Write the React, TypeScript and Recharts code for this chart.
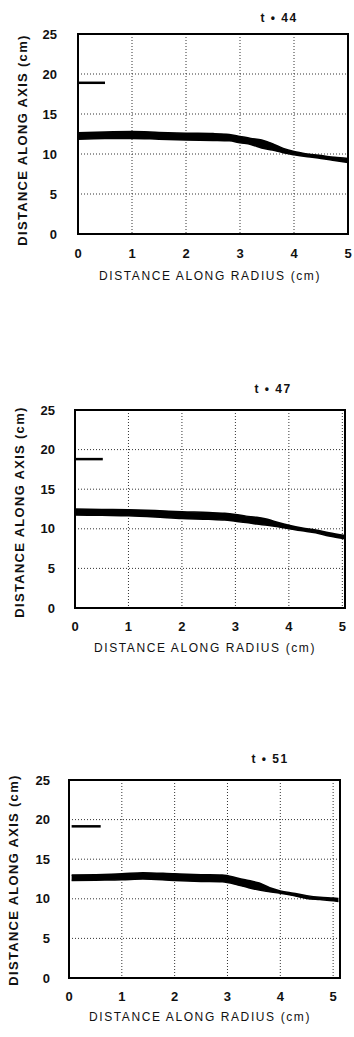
import React from "react";
import {
  ComposedChart,
  Area,
  Line,
  XAxis,
  YAxis,
  CartesianGrid,
  ReferenceArea,
} from "recharts";

// ---- data ----
const titles = ["t • 44", "t • 47", "t • 51"];
const xTicks = [0, 1, 2, 3, 4, 5];
const yTicks = [0, 5, 10, 15, 20, 25];
const xLabel = "DISTANCE ALONG RADIUS (cm)";
const yLabel = "DISTANCE ALONG AXIS (cm)";

const radius44 = [0, 0.5, 1, 1.5, 2, 2.5, 2.8, 3.0, 3.2, 3.4, 3.6, 3.8, 4.0, 4.25, 4.5, 4.75, 5.0];
const upper44 = [12.65, 12.75, 12.8, 12.7, 12.6, 12.55, 12.45, 12.2, 11.95, 11.75, 11.3, 10.7, 10.3, 10.0, 9.8, 9.6, 9.45];
const lower44 = [11.85, 11.95, 11.95, 11.85, 11.75, 11.7, 11.65, 11.4, 11.2, 10.75, 10.5, 10.15, 9.9, 9.65, 9.45, 9.2, 8.95];
const segX44 = [0, 0.5];
const segY44 = [18.9, 18.9];

const radius47 = [0, 0.5, 1, 1.5, 2, 2.5, 2.8, 3.0, 3.2, 3.4, 3.6, 3.8, 4.0, 4.25, 4.5, 4.75, 5.05];
const upper47 = [12.5, 12.45, 12.4, 12.3, 12.15, 12.05, 11.95, 11.8, 11.6, 11.45, 11.2, 10.8, 10.45, 10.1, 9.85, 9.5, 9.15];
const lower47 = [11.75, 11.7, 11.65, 11.5, 11.3, 11.2, 11.1, 10.95, 10.8, 10.6, 10.45, 10.25, 10.0, 9.75, 9.5, 9.1, 8.75];
const segX47 = [0, 0.52];
const segY47 = [18.8, 18.8];

const radius51 = [0.05, 0.5, 1, 1.4, 2, 2.5, 2.9, 3.2, 3.4, 3.6, 3.8, 4.0, 4.25, 4.5, 4.75, 5.0, 5.1];
const upper51 = [13.0, 13.05, 13.15, 13.3, 13.15, 13.05, 13.0, 12.6, 12.3, 12.0, 11.4, 11.0, 10.7, 10.4, 10.2, 10.1, 10.05];
const lower51 = [12.3, 12.35, 12.4, 12.5, 12.3, 12.2, 12.15, 11.75, 11.4, 11.1, 10.9, 10.7, 10.4, 10.05, 9.9, 9.75, 9.65];
const segX51 = [0.05, 0.6];
const segY51 = [19.15, 19.15];

const buildBand = (xs: number[], hi: number[], lo: number[]) =>
  xs.map((x, i) => ({ x, range: [lo[i], hi[i]] }));
const buildSeg = (xs: number[], ys: number[]) => xs.map((x, i) => ({ x, y: ys[i] }));

type Geo = {
  L: number; R: number; T: number; B: number; xMax: number;
  yTickRight: number; xTickY: number; xLabelX: number; xLabelY: number;
  yLabelX: number; yLabelY: number; titleX: number; titleY: number;
};

const panels: { title: string; band: any[]; seg: any[]; geo: Geo }[] = [
  {
    title: titles[0],
    band: buildBand(radius44, upper44, lower44),
    seg: buildSeg(segX44, segY44),
    geo: { L: 78, R: 348, T: 34, B: 234, xMax: 5, yTickRight: 57, xTickY: 254, xLabelX: 210, xLabelY: 276, yLabelX: 23, yLabelY: 140, titleX: 279, titleY: 18 },
  },
  {
    title: titles[1],
    band: buildBand(radius47, upper47, lower47),
    seg: buildSeg(segX47, segY47),
    geo: { L: 75, R: 345, T: 410, B: 608, xMax: 5.05, yTickRight: 55, xTickY: 627, xLabelX: 205, xLabelY: 648, yLabelX: 20, yLabelY: 512, titleX: 273, titleY: 389 },
  },
  {
    title: titles[2],
    band: buildBand(radius51, upper51, lower51),
    seg: buildSeg(segX51, segY51),
    geo: { L: 69, R: 340, T: 780, B: 978, xMax: 5.13, yTickRight: 50, xTickY: 997, xLabelX: 200, xLabelY: 1017, yLabelX: 14, yLabelY: 880, titleX: 270, titleY: 759 },
  },
];

const FONT = "'Liberation Sans', Arial, Helvetica, sans-serif";

function Panel({ title, band, seg, geo }: { title: string; band: any[]; seg: any[]; geo: Geo }) {
  const chartTop = geo.T - 20;
  const chartH = geo.B - geo.T + 70;
  const yAxisW = 40;
  const xAxisH = 30;
  return (
    <>
      <div style={{ position: "absolute", left: 0, top: chartTop, width: 354, height: chartH }}>
        <ComposedChart
          width={354}
          height={chartH}
          margin={{ top: 20, left: geo.L - yAxisW, right: 354 - geo.R, bottom: chartH - 20 - (geo.B - geo.T) - xAxisH }}
        >
          <CartesianGrid stroke="#333" strokeDasharray="1 2" strokeWidth={1} />
          <XAxis
            dataKey="x"
            type="number"
            domain={[0, geo.xMax]}
            ticks={xTicks}
            allowDataOverflow
            axisLine={false}
            tickLine={false}
            height={xAxisH}
            tickMargin={geo.xTickY - 5 - geo.B - 6}
            tick={{ fill: "#111", fontSize: 13, fontWeight: 700, fontFamily: FONT }}
          />
          <YAxis
            type="number"
            domain={[0, 25]}
            ticks={yTicks}
            allowDataOverflow
            axisLine={false}
            tickLine={false}
            width={yAxisW}
            tickMargin={geo.L - 6 - geo.yTickRight}
            tick={{ fill: "#111", fontSize: 13, fontWeight: 700, fontFamily: FONT }}
          />
          <Area
            data={band}
            dataKey="range"
            type="monotone"
            stroke="#000"
            strokeWidth={1.5}
            fill="#000"
            fillOpacity={1}
            isAnimationActive={false}
            dot={false}
            activeDot={false}
          />
          <Line
            data={seg}
            dataKey="y"
            type="linear"
            stroke="#000"
            strokeWidth={2.5}
            dot={false}
            activeDot={false}
            isAnimationActive={false}
          />
          <ReferenceArea
            x1={0}
            x2={geo.xMax}
            y1={0}
            y2={25}
            fill="none"
            stroke="#000"
            strokeWidth={2}
            ifOverflow="visible"
          />
        </ComposedChart>
      </div>
      <div
        style={{
          position: "absolute", left: geo.titleX - 40, top: geo.titleY - 8, width: 80, height: 16,
          textAlign: "center", fontFamily: FONT, fontSize: 12, fontWeight: 700, letterSpacing: 1.5,
          lineHeight: "16px", color: "#111", whiteSpace: "nowrap",
        }}
      >
        {title}
      </div>
      <div
        style={{
          position: "absolute", left: geo.xLabelX - 150, top: geo.xLabelY - 8, width: 300, height: 16,
          textAlign: "center", fontFamily: FONT, fontSize: 12, letterSpacing: 1.6,
          lineHeight: "16px", color: "#111", whiteSpace: "nowrap",
        }}
      >
        {xLabel}
      </div>
      <div
        style={{
          position: "absolute", left: geo.yLabelX - 150, top: geo.yLabelY - 8, width: 300, height: 16,
          textAlign: "center", fontFamily: FONT, fontSize: 13, fontWeight: 700, letterSpacing: 1.3,
          lineHeight: "16px", color: "#111", whiteSpace: "nowrap", transform: "rotate(-90deg)",
        }}
      >
        {yLabel}
      </div>
    </>
  );
}

export default function App() {
  return (
    <div style={{ position: "absolute", left: 0, top: 0, width: 354, height: 1037, background: "#fff", overflow: "hidden" }}>
      {panels.map((p, i) => (
        <Panel key={i} title={p.title} band={p.band} seg={p.seg} geo={p.geo} />
      ))}
    </div>
  );
}
